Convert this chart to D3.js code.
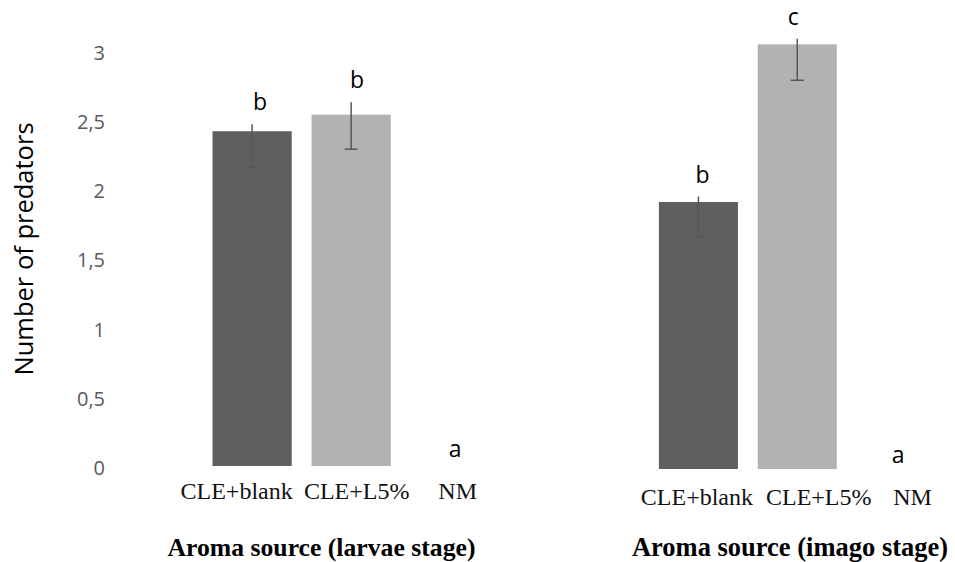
<!DOCTYPE html>
<html>
<head>
<meta charset="utf-8">
<script src="https://cdn.jsdelivr.net/npm/d3@7"></script>
<style>
  body { margin: 0; background: #fff; }
  svg { display: block; }
</style>
</head>
<body>
<div id="chart"></div>
<script>
// values
const categories = ["CLE+blank", "CLE+L5%", "NM"];
const yTicks = [0, 0.5, 1, 1.5, 2, 2.5, 3];

const larvaeMeans = [2.42, 2.54, 0];
const larvaeUpper = [2.47, 2.63, 0];
const larvaeLower = [2.16, 2.29, 0];
const larvaeLetters = ["b", "b", "a"];

const imagoMeans = [1.93, 3.07, 0];
const imagoUpper = [1.97, 3.11, 0];
const imagoLower = [1.68, 2.81, 0];
const imagoLetters = ["b", "c", "a"];

const W = 955, H = 562;
const barColors = ["#5f5f5f", "#b2b2b2", "#b2b2b2"];
const errColor = "#575757";

const svg = d3.select("#chart").append("svg")
    .attr("width", W)
    .attr("height", H);

svg.append("rect").attr("width", W).attr("height", H).attr("fill", "#fff");

function panel(opts) {
    const x = d3.scaleBand()
        .domain(categories)
        .range(opts.xRange)
        .paddingInner(0.2)
        .paddingOuter(0.1);
    const y = d3.scaleLinear()
        .domain([0, 3])
        .range([opts.base, opts.base - 415]);

    const rows = categories.map((c, i) => ({
        cat: c, mean: opts.means[i], hi: opts.upper[i], lo: opts.lower[i], letter: opts.letters[i], i: i
    }));

    const g = svg.append("g");

    // bars (NM is zero so nothing shows)
    g.selectAll("rect.bar")
        .data(rows.filter(d => d.mean > 0))
        .enter().append("rect")
        .attr("class", "bar")
        .attr("x", d => x(d.cat))
        .attr("width", x.bandwidth())
        .attr("y", d => y(d.mean))
        .attr("height", d => y(0) - y(d.mean))
        .attr("fill", d => barColors[d.i]);

    // error bars, cap only at the bottom like the original
    const eb = g.selectAll("g.err")
        .data(rows.filter(d => d.mean > 0))
        .enter().append("g")
        .attr("class", "err");
    eb.append("line")
        .attr("x1", d => x(d.cat) + x.bandwidth() / 2)
        .attr("x2", d => x(d.cat) + x.bandwidth() / 2)
        .attr("y1", d => y(d.hi))
        .attr("y2", d => y(d.lo))
        .attr("stroke", errColor)
        .attr("stroke-width", 1.5);
    eb.append("line")
        .attr("x1", d => x(d.cat) + x.bandwidth() / 2 - 6.5)
        .attr("x2", d => x(d.cat) + x.bandwidth() / 2 + 6.5)
        .attr("y1", d => y(d.lo))
        .attr("y2", d => y(d.lo))
        .attr("stroke", errColor)
        .attr("stroke-width", 1.5);

    // significance letters
    g.selectAll("text.letter")
        .data(rows)
        .enter().append("text")
        .attr("class", "letter")
        .attr("x", d => x(d.cat) + x.bandwidth() / 2 + opts.letterShift[d.i])
        .attr("y", d => d.mean > 0 ? y(d.hi) - 22 : y(0) - opts.zeroLift)
        .attr("dy", "0.35em")
        .attr("text-anchor", "middle")
        .style("font-family", "'Open Sans', sans-serif")
        .style("font-size", "23px")
        .attr("fill", "#000")
        .text(d => d.letter);

    // category labels (typed text row in the original, not centered)
    g.selectAll("text.cat")
        .data(rows)
        .enter().append("text")
        .attr("class", "cat")
        .attr("x", d => x(d.cat) + x.bandwidth() / 2 + opts.labelShift[d.i])
        .attr("y", opts.labelY)
        .attr("text-anchor", "middle")
        .style("font-family", "'Liberation Serif', 'Times New Roman', serif")
        .style("font-size", "24px")
        .attr("fill", "#111")
        .text(d => d.cat);

    g.append("text")
        .attr("x", opts.titleX)
        .attr("y", opts.titleY)
        .attr("text-anchor", "middle")
        .style("font-family", "'Liberation Serif', 'Times New Roman', serif")
        .style("font-weight", "bold")
        .style("font-size", opts.titleSize + "px")
        .attr("fill", "#000")
        .text(opts.title);

    return y;
}

const yL = panel({
    xRange: [202.6, 499.7], base: 466,
    means: larvaeMeans, upper: larvaeUpper, lower: larvaeLower, letters: larvaeLetters,
    letterShift: [8, 6, 5], zeroLift: 17,
    labelShift: [-15.5, 5.5, 7.5], labelY: 499,
    title: "Aroma source (larvae stage)", titleX: 321.5, titleY: 556, titleSize: 25.7
});

panel({
    xRange: [649, 945.5], base: 469,
    means: imagoMeans, upper: imagoUpper, lower: imagoLower, letters: imagoLetters,
    letterShift: [4, -4, 2], zeroLift: 14,
    labelShift: [-1.5, 21.5, 16.5], labelY: 505,
    title: "Aroma source (imago stage)", titleX: 790, titleY: 556, titleSize: 26.5
});

// y axis: labels only, no line or ticks
const yAxis = d3.axisLeft(yL)
    .tickValues(yTicks)
    .tickFormat(d => String(d).replace(".", ","))
    .tickSize(0)
    .tickPadding(0);

const ya = svg.append("g")
    .attr("transform", "translate(105,2)")
    .call(yAxis);
ya.select(".domain").remove();
ya.selectAll("text")
    .style("font-family", "'Open Sans', sans-serif")
    .style("font-size", "20px")
    .attr("fill", "#595959");

svg.append("text")
    .attr("transform", "translate(33,249) rotate(-90)")
    .attr("text-anchor", "middle")
    .style("font-family", "'Open Sans', sans-serif")
    .style("font-size", "25.5px")
    .attr("fill", "#000")
    .text("Number of predators");
</script>
</body>
</html>
